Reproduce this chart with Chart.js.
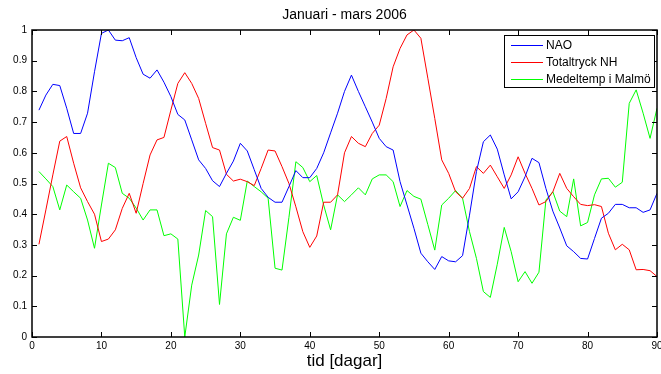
<!DOCTYPE html>
<html>
<head>
<meta charset="utf-8">
<script src="https://cdn.jsdelivr.net/npm/chart.js@4"></script>
<style>
  html, body { margin: 0; padding: 0; background: #fff; }
  #wrap { width: 661px; height: 374px; }
</style>
</head>
<body>
<div id="wrap"><canvas id="plot"></canvas></div>
<script>
const days = Array.from({ length: 90 }, (v, i) => i + 1)

const nao = [
  0.739, 0.788, 0.823, 0.819, 0.745, 0.663, 0.663, 0.729, 0.864, 0.989,
  1.0, 0.967, 0.965, 0.975, 0.91, 0.856, 0.843, 0.87, 0.83, 0.783,
  0.725, 0.707, 0.642, 0.577, 0.549, 0.509, 0.49, 0.533, 0.573, 0.631,
  0.606, 0.545, 0.484, 0.455, 0.439, 0.439, 0.49, 0.542, 0.519, 0.519,
  0.549, 0.60, 0.665, 0.729, 0.80, 0.853, 0.80, 0.75, 0.70, 0.647,
  0.62, 0.609, 0.506, 0.43, 0.354, 0.273, 0.245, 0.22, 0.262, 0.248,
  0.245, 0.265, 0.397, 0.539, 0.636, 0.658, 0.612, 0.528, 0.45, 0.473,
  0.522, 0.582, 0.568, 0.484, 0.41, 0.355, 0.297, 0.278, 0.256, 0.254,
  0.321, 0.387, 0.403, 0.432, 0.432, 0.421, 0.421, 0.406, 0.414, 0.468
]

const totaltryck = [
  0.302, 0.414, 0.528, 0.638, 0.653, 0.566, 0.486, 0.441, 0.40, 0.311,
  0.319, 0.349, 0.419, 0.468, 0.403, 0.50, 0.593, 0.642, 0.65, 0.739,
  0.826, 0.861, 0.826, 0.777, 0.696, 0.617, 0.609, 0.53, 0.508, 0.514,
  0.506, 0.493, 0.549, 0.609, 0.606, 0.555, 0.50, 0.424, 0.343, 0.292,
  0.329, 0.439, 0.439, 0.463, 0.60, 0.653, 0.631, 0.62, 0.663, 0.69,
  0.777, 0.88, 0.94, 0.984, 1.0, 0.973, 0.843, 0.712, 0.577, 0.533,
  0.473, 0.452, 0.484, 0.555, 0.533, 0.56, 0.522, 0.484, 0.528, 0.587,
  0.533, 0.484, 0.43, 0.441, 0.473, 0.533, 0.484, 0.457, 0.432, 0.428,
  0.431, 0.425, 0.338, 0.284, 0.302, 0.284, 0.219, 0.22, 0.216, 0.197
]

const medeltemp = [
  0.539, 0.515, 0.49, 0.414, 0.495, 0.473, 0.452, 0.381, 0.289, 0.43,
  0.566, 0.552, 0.468, 0.452, 0.42, 0.381, 0.414, 0.414, 0.33, 0.336,
  0.319, 0.0, 0.169, 0.267, 0.412, 0.392, 0.106, 0.336, 0.39, 0.38,
  0.508, 0.49, 0.473, 0.452, 0.224, 0.218, 0.39, 0.571, 0.552, 0.506,
  0.526, 0.43, 0.349, 0.463, 0.441, 0.463, 0.486, 0.463, 0.515, 0.528,
  0.528, 0.506, 0.425, 0.477, 0.458, 0.449, 0.366, 0.283, 0.43, 0.452,
  0.477, 0.452, 0.343, 0.256, 0.148, 0.129, 0.237, 0.357, 0.278, 0.18,
  0.213, 0.175, 0.211, 0.446, 0.473, 0.41, 0.392, 0.515, 0.362, 0.373,
  0.463, 0.515, 0.517, 0.488, 0.504, 0.761, 0.805, 0.729, 0.647, 0.745
]

const xTicks = [ 0, 10, 20, 30, 40, 50, 60, 70, 80, 90 ]
const yTicks = [ 0, 0.1, 0.2, 0.3, 0.4, 0.5, 0.6, 0.7, 0.8, 0.9, 1 ]
const yTickLabels = [ '0', '0.1', '0.2', '0.3', '0.4', '0.5', '0.6', '0.7', '0.8', '0.9', '1' ]

const titleText = 'Januari - mars 2006'
const xTitle = 'tid [dagar]'

const font = "'Liberation Sans', Arial, sans-serif"

const toPoints = (values) => values.map((v, i) => ({ x: days[i], y: v }))

// matlab style box, inward ticks, labels, title and legend
const matlabFrame = {
  id: 'matlabFrame',
  afterDraw(chart) {
    const { ctx, chartArea: a, scales: { x, y } } = chart
    const tick = 5
    ctx.save()
    ctx.strokeStyle = '#000'
    ctx.fillStyle = '#000'
    ctx.lineWidth = 1

    ctx.beginPath()
    xTicks.forEach(t => {
      const px = Math.round(x.getPixelForValue(t)) + 0.5
      ctx.moveTo(px, a.bottom); ctx.lineTo(px, a.bottom - tick)
      ctx.moveTo(px, a.top); ctx.lineTo(px, a.top + tick)
    })
    yTicks.forEach(t => {
      const py = Math.round(y.getPixelForValue(t)) + 0.5
      ctx.moveTo(a.left, py); ctx.lineTo(a.left + tick, py)
      ctx.moveTo(a.right, py); ctx.lineTo(a.right - tick, py)
    })
    ctx.stroke()

    ctx.lineWidth = 1.5
    ctx.strokeRect(a.left, a.top, a.right - a.left, a.bottom - a.top)

    ctx.font = '10px ' + font
    ctx.textAlign = 'center'
    ctx.textBaseline = 'top'
    xTicks.forEach(t => {
      ctx.fillText(String(t), x.getPixelForValue(t), a.bottom + 4)
    })
    ctx.textAlign = 'right'
    ctx.textBaseline = 'middle'
    yTicks.forEach((t, i) => {
      ctx.fillText(yTickLabels[i], a.left - 5, y.getPixelForValue(t))
    })

    ctx.textAlign = 'center'
    ctx.textBaseline = 'middle'
    ctx.font = '14px ' + font
    ctx.fillText(titleText, (a.left + a.right) / 2, 15)
    ctx.font = '17px ' + font
    ctx.fillText(xTitle, (a.left + a.right) / 2, 361)

    // legend
    const lx = 504, ly = 35, lw = 150, lh = 52
    ctx.fillStyle = '#fff'
    ctx.fillRect(lx, ly, lw, lh)
    ctx.lineWidth = 1
    ctx.strokeStyle = '#000'
    ctx.strokeRect(lx + 0.5, ly + 0.5, lw, lh)
    ctx.font = '12px ' + font
    ctx.textAlign = 'left'
    chart.data.datasets.forEach((ds, i) => {
      const ry = ly + 10.5 + i * 17
      ctx.strokeStyle = ds.borderColor
      ctx.beginPath()
      ctx.moveTo(lx + 7, ry); ctx.lineTo(lx + 39, ry)
      ctx.stroke()
      ctx.fillStyle = '#000'
      ctx.fillText(ds.label, lx + 42, ry + 0.5)
    })
    ctx.restore()
  }
}

let tidsserie = new Chart(document.querySelector('#plot'), {
  type: 'line',
  plugins: [matlabFrame],
  data: {
    datasets: [
      {
        label: 'NAO',
        data: toPoints(nao),
        borderColor: '#0000ff',
        borderWidth: 1,
        pointRadius: 0,
        tension: 0
      },
      {
        label: 'Totaltryck NH',
        data: toPoints(totaltryck),
        borderColor: '#ff0000',
        borderWidth: 1,
        pointRadius: 0,
        tension: 0
      },
      {
        label: 'Medeltemp i Malmö',
        data: toPoints(medeltemp),
        borderColor: '#00ff00',
        borderWidth: 1,
        pointRadius: 0,
        tension: 0
      }
    ]
  },
  options: {
    responsive: true,
    maintainAspectRatio: false,
    animation: false,
    layout: {
      padding: { top: 30, right: 4, left: 0, bottom: 0 }
    },
    scales: {
      x: {
        type: 'linear',
        min: 0,
        max: 90,
        grid: { display: false },
        border: { display: false },
        ticks: { display: false },
        afterFit(scale) { scale.height = 37 }
      },
      y: {
        min: 0,
        max: 1,
        grid: { display: false },
        border: { display: false },
        ticks: { display: false },
        afterFit(scale) { scale.width = 32 }
      }
    },
    plugins: {
      legend: { display: false },
      title: { display: false },
      tooltip: { enabled: false }
    }
  }
})
</script>
</body>
</html>
